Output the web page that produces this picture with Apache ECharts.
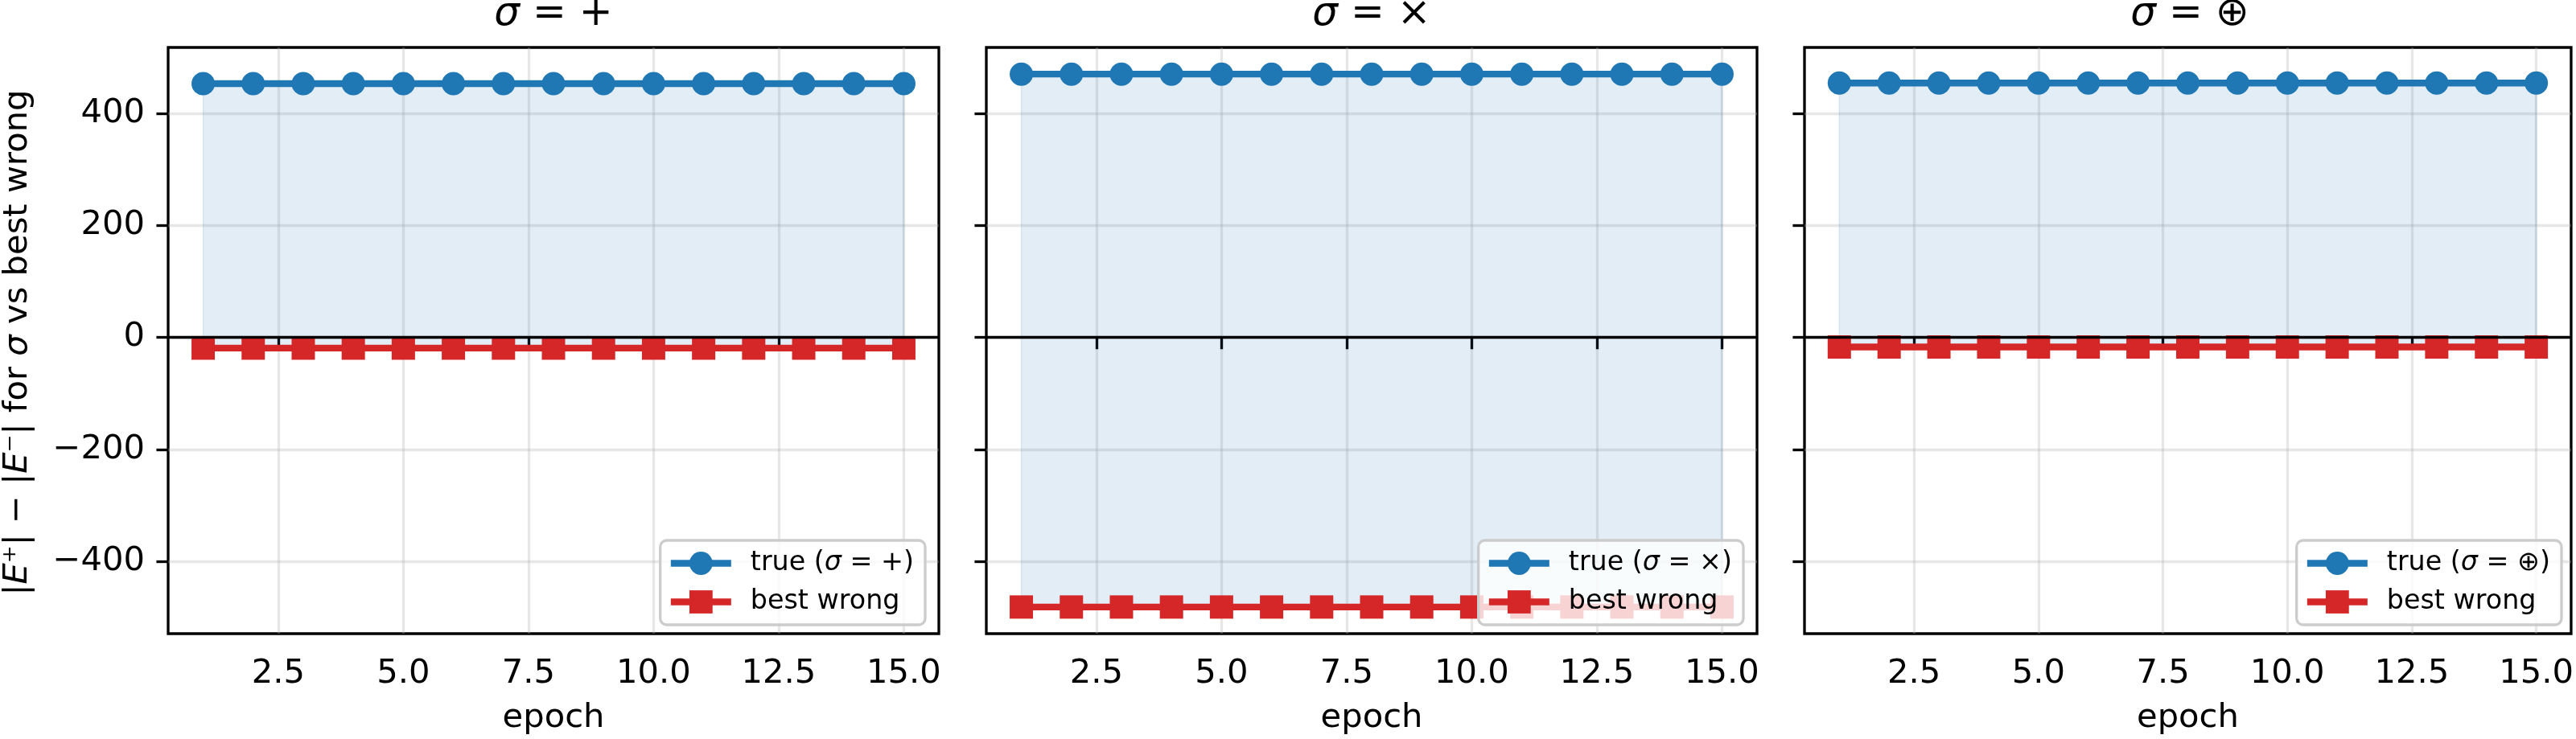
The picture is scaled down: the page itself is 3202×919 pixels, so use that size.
<!DOCTYPE html>
<html>
<head>
<meta charset="utf-8">
<script src="https://cdn.jsdelivr.net/npm/echarts@6/dist/echarts.min.js"></script>
<style>html,body{margin:0;padding:0;background:#fff}#chart{width:3202px;height:919px}</style>
</head>
<body>
<div id="chart"></div>
<script>
"use strict";

// data
const epochs=[1,2,3,4,5,6,7,8,9,10,11,12,13,14,15];
const xTicks=[2.5,5,7.5,10,12.5,15];
const yTicks=[-400,-200,0,200,400];
const ops=['+','×','⊕'];

const trueAdd=[453,453,453,453,453,453,453,453,453,453,453,453,453,453,453];
const wrongAdd=[-19,-19,-19,-19,-19,-19,-19,-19,-19,-19,-19,-19,-19,-19,-19];
const trueMul=[470,470,470,470,470,470,470,470,470,470,470,470,470,470,470];
const wrongMul=[-481,-481,-481,-481,-481,-481,-481,-481,-481,-481,-481,-481,-481,-481,-481];
const trueOplus=[454,454,454,454,454,454,454,454,454,454,454,454,454,454,454];
const wrongOplus=[-17,-17,-17,-17,-17,-17,-17,-17,-17,-17,-17,-17,-17,-17,-17];

const trueSets=[trueAdd,trueMul,trueOplus];
const wrongSets=[wrongAdd,wrongMul,wrongOplus];

const FONT='DejaVu Sans';
const BLUE='#1f77b4', RED='#d62728';
const PT=300/72;
const grids=[209,1226,2243];
const GW=958, GTOP=59, GH=732;
const YMIN=-528.55, YMAX=517.55;

const chart=echarts.init(document.getElementById('chart'));

function minusFmt(v){
  return v<0 ? '\u2212'+Math.abs(v) : String(v);
}

// fill_between true and wrong: one polygon, drawn from the first item
function renderFill(params,api){
  if (params.dataIndexInside!==0) return null;
  const n=params.dataInsideLength;
  let top=[], bot=[];
  for (let k=0;k<n;k++){
    top.push(api.coord([api.value(0,k),api.value(1,k)]));
    bot.unshift(api.coord([api.value(0,k),api.value(2,k)]));
  }
  return {type:'polygon',shape:{points:top.concat(bot)},
    style:{fill:'rgba(31,119,180,0.13)',stroke:'rgba(31,119,180,0.13)',lineWidth:1.5}};
}

let grid=[], xAxis=[], yAxis=[], series=[], legend=[], graphic=[];

ops.forEach(function(op,i){
  grid.push({left:grids[i],top:GTOP,width:GW,height:GH,show:true,
    borderColor:'#000',borderWidth:0.8*PT,backgroundColor:'transparent'});

  xAxis.push({gridIndex:i,type:'value',min:0.3,max:15.7,
    axisLine:{show:false},
    axisTick:{show:true,length:3.5*PT,customValues:xTicks,lineStyle:{color:'#000',width:0.8*PT}},
    axisLabel:{customValues:xTicks,formatter:function(v){return v.toFixed(1);},
      fontFamily:FONT,fontSize:10*PT,color:'#000',margin:29},
    splitLine:{show:true,lineStyle:{color:'rgba(176,176,176,0.3)',width:0.8*PT}},
    name:'epoch',nameLocation:'middle',nameGap:84,
    nameTextStyle:{fontFamily:FONT,fontSize:10*PT,color:'#000'}});

  yAxis.push({gridIndex:i,type:'value',min:YMIN,max:YMAX,
    axisLine:{show:false},
    axisTick:{show:true,length:3.5*PT,customValues:yTicks,lineStyle:{color:'#000',width:0.8*PT}},
    axisLabel:{show:i===0,customValues:yTicks,formatter:minusFmt,
      fontFamily:FONT,fontSize:10*PT,color:'#000',margin:29},
    splitLine:{show:true,lineStyle:{color:'rgba(176,176,176,0.3)',width:0.8*PT}}});

  const tv=trueSets[i], wv=wrongSets[i];
  const trueName='true (\u03c3 = '+op+')';
  const wrongName='best wrong';

  series.push({name:'fill'+i,type:'custom',xAxisIndex:i,yAxisIndex:i,z:1,silent:true,
    renderItem:renderFill,clip:true,
    encode:{x:0,y:[1,2]},
    data:epochs.map(function(e,k){return [e,tv[k],wv[k]];}),
    markLine:{silent:true,symbol:['none','none'],label:{show:false},
      lineStyle:{color:'#000',width:0.8*PT,type:'solid'},
      emphasis:{disabled:true},data:[{yAxis:0}]}});

  series.push({name:trueName,type:'line',xAxisIndex:i,yAxisIndex:i,z:3,
    symbol:'circle',symbolSize:29,
    lineStyle:{color:BLUE,width:2*PT},itemStyle:{color:BLUE},
    data:epochs.map(function(e,k){return [e,tv[k]];})});
  series.push({name:wrongName,type:'line',xAxisIndex:i,yAxisIndex:i,z:3,
    symbol:'rect',symbolSize:29,
    lineStyle:{color:RED,width:2*PT},itemStyle:{color:RED},
    data:epochs.map(function(e,k){return [e,wv[k]];})});

  legend.push({data:[trueName,wrongName],orient:'vertical',
    right:3202-(grids[i]+GW)+17,bottom:919-(GTOP+GH)+14,
    itemWidth:75,itemHeight:36,itemGap:15,padding:[12,14,12,9],
    backgroundColor:'rgba(255,255,255,0.8)',borderColor:'#cccccc',
    borderWidth:0.8*PT,borderRadius:8,selectedMode:false,
    lineStyle:{width:2*PT},
    formatter:function(n){return n.replace('\u03c3','{i|\u03c3}');},
    textStyle:{fontFamily:FONT,fontSize:8*PT,color:'#000',padding:[0,0,0,19],
      rich:{i:{fontFamily:FONT,fontStyle:'italic',fontSize:8*PT,color:'#000'}}}});

  graphic.push({type:'text',x:grids[i]+GW/2,y:18,silent:true,
    style:{text:'{i|\u03c3} = '+op,align:'center',verticalAlign:'middle',
      font:(12*PT)+'px "'+FONT+'"',fill:'#000',
      rich:{i:{fontFamily:FONT,fontStyle:'italic',fontSize:12*PT,fill:'#000'}}}});
});

graphic.push({type:'text',x:22,y:426,rotation:Math.PI/2,silent:true,
  style:{text:'|{i|E}\u207a| \u2212 |{i|E}\u207b| for {i|\u03c3} vs best wrong',
    align:'center',verticalAlign:'middle',
    font:(10*PT)+'px "'+FONT+'"',fill:'#000',
    rich:{i:{fontFamily:FONT,fontStyle:'italic',fontSize:10*PT,fill:'#000'}}}});

chart.setOption({
  animation:false,
  backgroundColor:'#fff',
  grid:grid,xAxis:xAxis,yAxis:yAxis,series:series,legend:legend,graphic:graphic
});
</script>
</body>
</html>
